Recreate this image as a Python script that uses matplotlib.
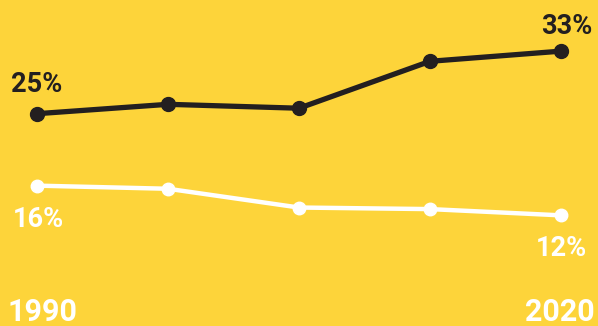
import matplotlib.pyplot as plt

years = [1990, 1997.5, 2005, 2012.5, 2020]
dark_vals = [25, 26.2, 25.7, 31.7, 33]
white_vals = [15.8, 15.4, 13.0, 12.8, 12]
dark_labels = ['25%', '33%']
white_labels = ['16%', '12%']
year_labels = ['1990', '2020']

bg = '#FDD43A'
dark = '#231F20'

plt.rcParams['font.family'] = ['Roboto', 'DejaVu Sans']

fig = plt.figure(figsize=(5.98, 3.26), dpi=100, facecolor=bg)
ax = fig.add_axes([0, 0, 1, 1])
ax.set_facecolor(bg)

ax.plot(years, dark_vals, color=dark, lw=3.8, marker='o', ms=10,
        solid_capstyle='round')
ax.plot(years, white_vals, color='white', lw=3.2, marker='o', ms=9,
        solid_capstyle='round')

ax.set_xlim(1987.88, 2022.12)
ax.set_ylim(-2.15, 39.54)
ax.axis('off')

# value labels at the first and last points
ax.annotate(dark_labels[0], (years[0], dark_vals[0]), xytext=(0, 15.8),
            textcoords='offset points', ha='center', va='baseline',
            fontsize=19.5, fontweight='bold', color=dark)
ax.annotate(dark_labels[1], (years[-1], dark_vals[-1]), xytext=(4.3, 12.2),
            textcoords='offset points', ha='center', va='baseline',
            fontsize=19.5, fontweight='bold', color=dark)
ax.annotate(white_labels[0], (years[0], white_vals[0]), xytext=(0.7, -29.5),
            textcoords='offset points', ha='center', va='baseline',
            fontsize=19.5, fontweight='bold', color='white')
ax.annotate(white_labels[1], (years[-1], white_vals[-1]), xytext=(0, -29.5),
            textcoords='offset points', ha='center', va='baseline',
            fontsize=19.5, fontweight='bold', color='white')

# year labels
fig.text(7 / 598, 5 / 326, year_labels[0], ha='left', va='baseline',
         fontsize=22, fontweight='bold', color='white')
fig.text(595 / 598, 5 / 326, year_labels[1], ha='right', va='baseline',
         fontsize=22, fontweight='bold', color='white')

fig.savefig('out.png', dpi=100, facecolor=bg)
